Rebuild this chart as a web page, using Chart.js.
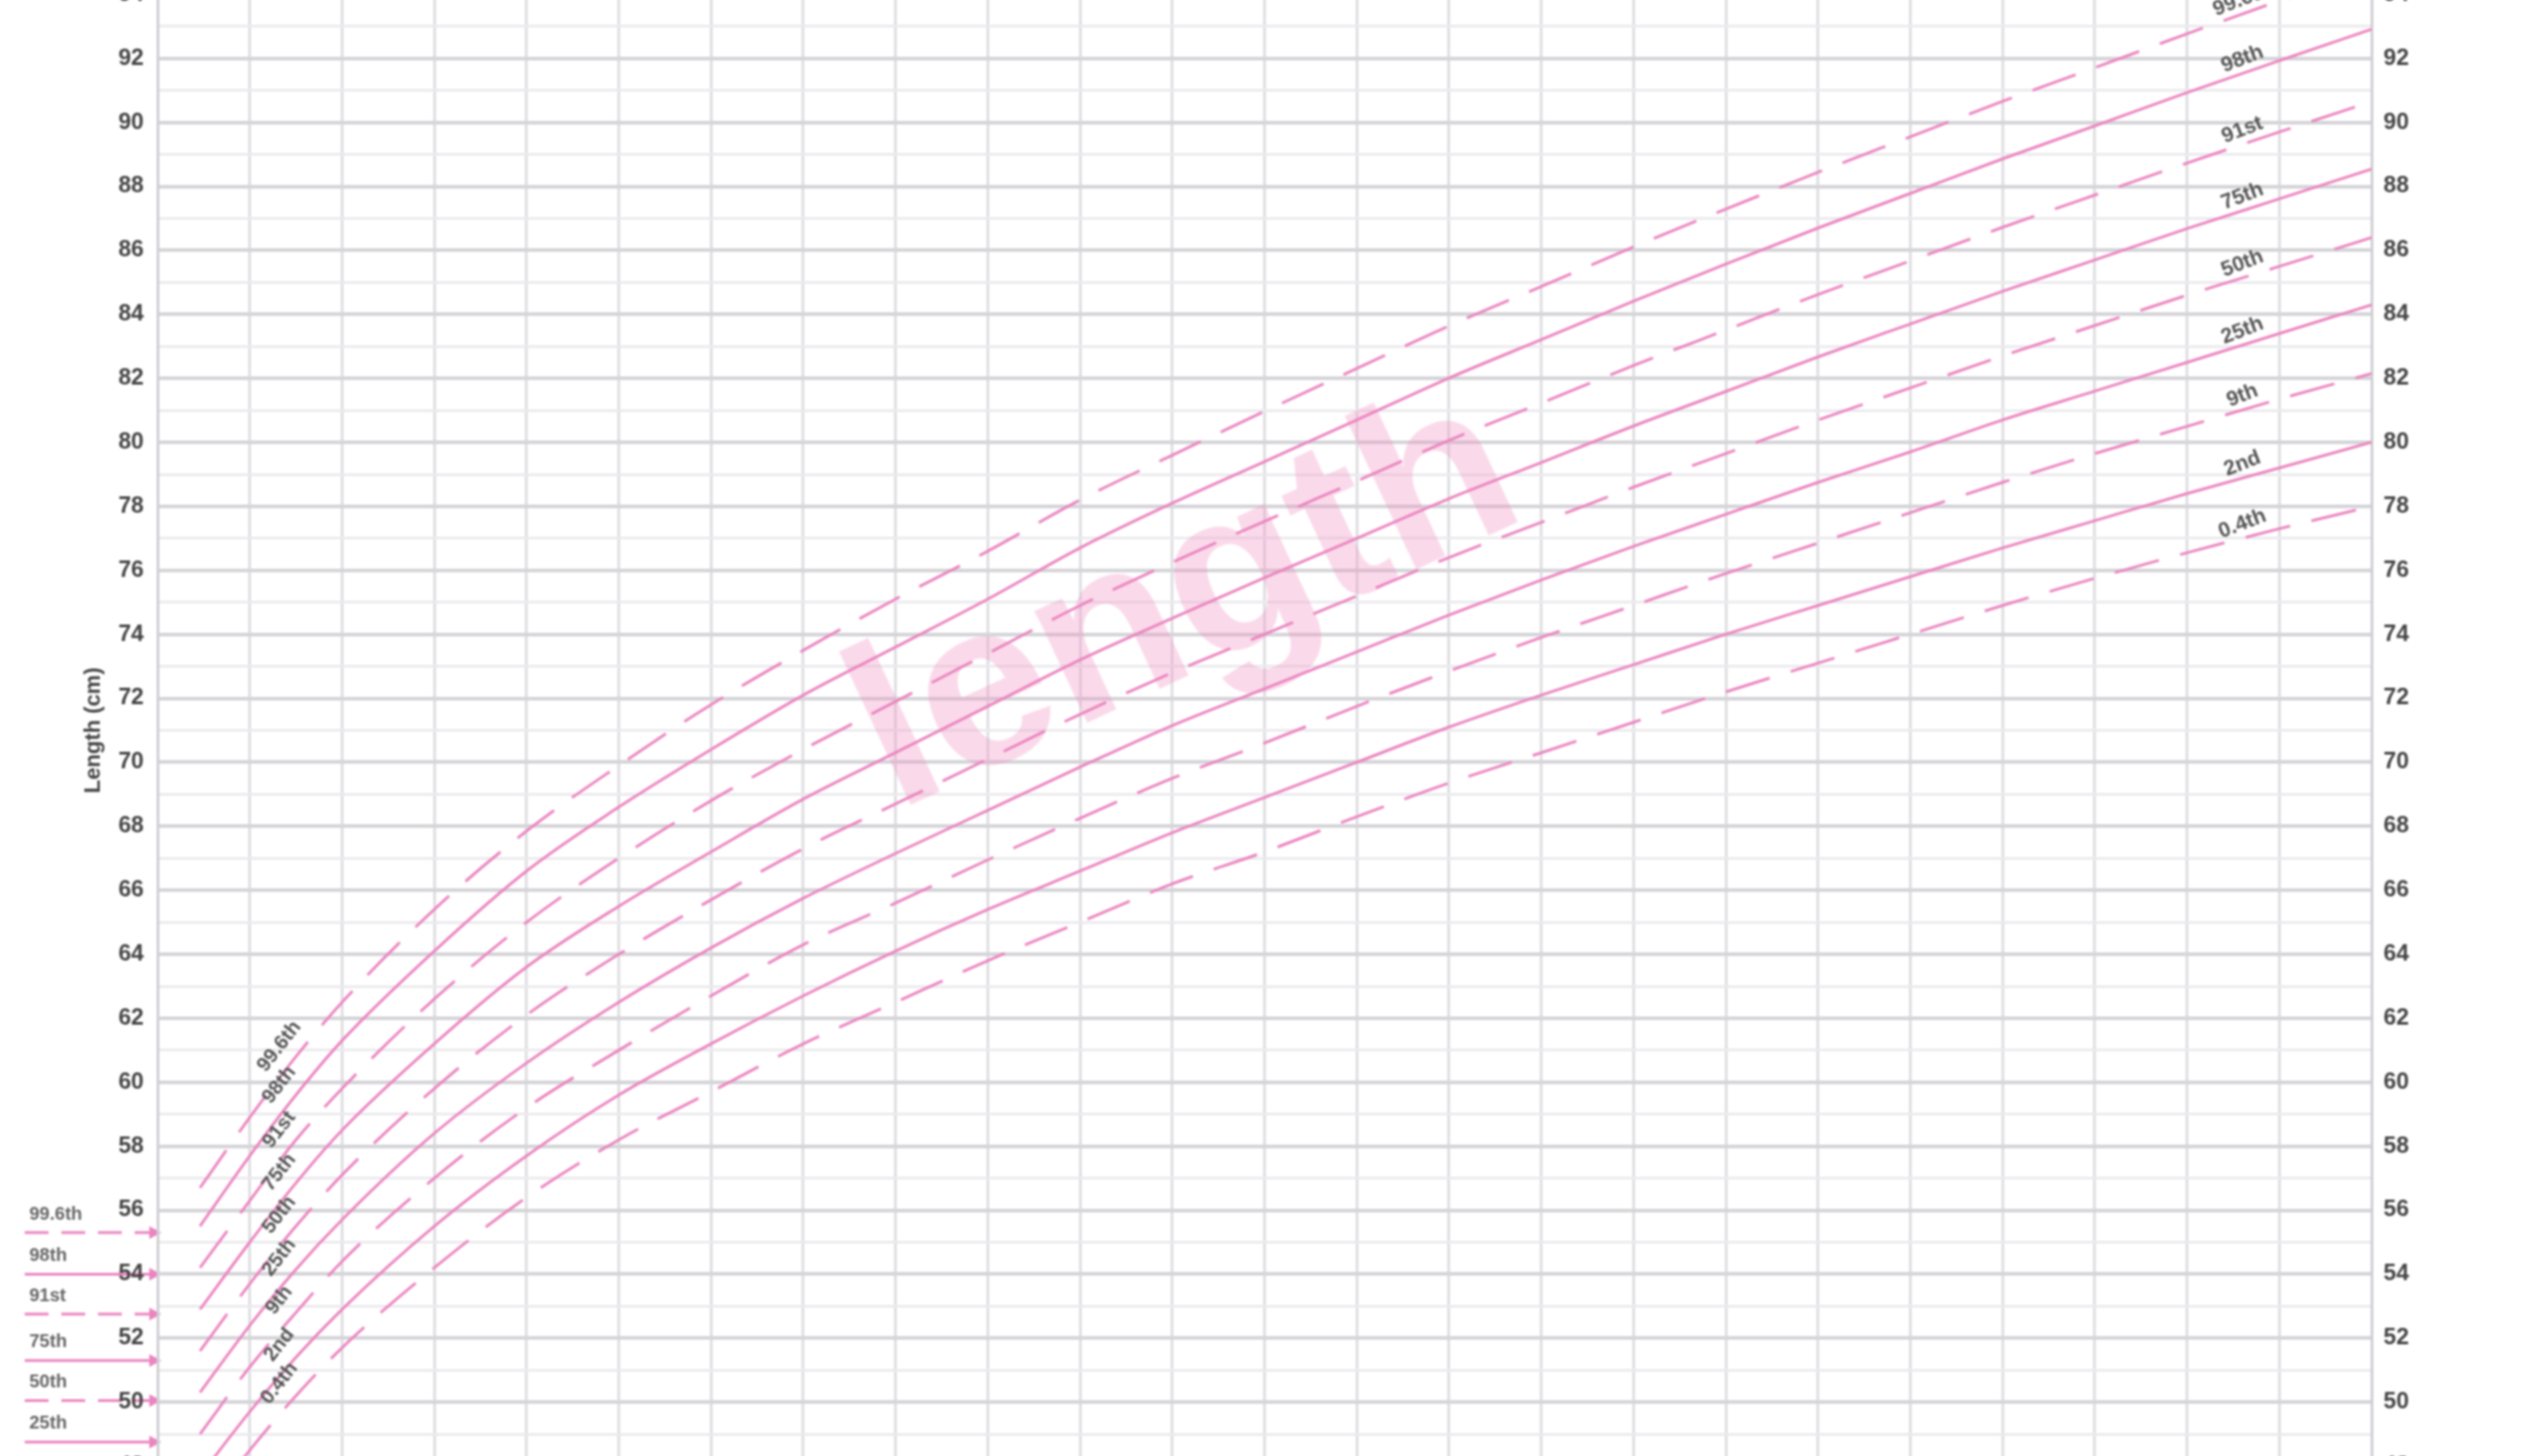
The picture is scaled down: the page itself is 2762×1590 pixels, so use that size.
<!DOCTYPE html>
<html>
<head>
<meta charset="utf-8">
<script src="https://cdn.jsdelivr.net/npm/chart.js@4.4.1/dist/chart.umd.min.js"></script>
<style>
    html, body { margin: 0; padding: 0; background: #fff; overflow: hidden; width: 2762px; height: 1590px; }
    #wrap { position: absolute; left: 0; top: -41px; width: 2762px; height: 1677px; }
    #chart-length { filter: blur(1.1px); }
</style>
</head>
<body>
<div id="wrap"><canvas id="chart-length"></canvas></div>
<script>
// =========================
// DATA
// =========================
const months = [0.46, 1, 1.5, 2, 3, 4, 5, 6, 7, 8, 9, 10, 11, 12, 13, 14, 15, 16, 17, 18, 19, 20, 21, 22, 23, 24]

const p0_4  = [46.5, 48.5, 50.2, 51.7, 54.2, 56.4, 58.2, 59.7, 61.2, 62.5, 63.8, 65.0, 66.2, 67.2, 68.3, 69.35, 70.3, 71.25, 72.2, 73.1, 74.0, 74.9, 75.75, 76.55, 77.3, 78.0]
const p2    = [47.7, 49.7, 51.4, 52.9, 55.5, 57.7, 59.6, 61.2, 62.7, 64.1, 65.4, 66.6, 67.8, 68.9, 70.0, 71.1, 72.1, 73.05, 74.0, 74.9, 75.8, 76.7, 77.55, 78.4, 79.2, 80.0]
const p9    = [49.0, 51.1, 52.8, 54.4, 57.0, 59.2, 61.0, 62.7, 64.3, 65.6, 66.95, 68.25, 69.5, 70.6, 71.75, 72.85, 73.9, 74.9, 75.9, 76.85, 77.8, 78.75, 79.65, 80.5, 81.35, 82.15]
const p25   = [50.3, 52.4, 54.15, 55.7, 58.4, 60.6, 62.5, 64.2, 65.75, 67.15, 68.5, 69.85, 71.15, 72.3, 73.45, 74.6, 75.7, 76.75, 77.75, 78.75, 79.7, 80.7, 81.6, 82.5, 83.4, 84.3]
const p50   = [51.6, 53.7, 55.5, 57.1, 59.8, 62.1, 64.0, 65.7, 67.3, 68.7, 70.1, 71.5, 72.8, 74.0, 75.2, 76.4, 77.5, 78.6, 79.65, 80.7, 81.7, 82.7, 83.65, 84.6, 85.5, 86.4]
const p75   = [52.9, 55.0, 56.85, 58.5, 61.2, 63.6, 65.5, 67.2, 68.85, 70.3, 71.75, 73.2, 74.5, 75.77, 77.0, 78.24, 79.37, 80.51, 81.59, 82.67, 83.7, 84.72, 85.7, 86.68, 87.61, 88.54]
const p91   = [54.2, 56.3, 58.2, 59.8, 62.6, 65.0, 67.0, 68.8, 70.4, 71.9, 73.4, 74.9, 76.25, 77.53, 78.79, 80.06, 81.23, 82.4, 83.51, 84.62, 85.67, 86.72, 87.73, 88.73, 89.7, 90.65]
const p98   = [55.5, 57.7, 59.6, 61.3, 64.1, 66.6, 68.6, 70.4, 72.1, 73.6, 75.1, 76.7, 78.1, 79.4, 80.7, 82.01, 83.21, 84.41, 85.57, 86.7, 87.78, 88.86, 89.89, 90.93, 91.93, 92.91]
const p99_6 = [56.7, 58.9, 60.8, 62.5, 65.4, 67.85, 69.9, 71.8, 73.5, 75.1, 76.6, 78.2, 79.6, 80.97, 82.31, 83.64, 84.87, 86.11, 87.29, 88.44, 89.55, 90.66, 91.71, 92.77, 93.8, 94.81]

const centileNames  = ["0.4th", "2nd", "9th", "25th", "50th", "75th", "91st", "98th", "99.6th"]
const centileSeries = [p0_4, p2, p9, p25, p50, p75, p91, p98, p99_6]
const centileDashed = [true, false, true, false, true, false, true, false, true]

// birth centiles (left margin)
const birthNames  = ["99.6th", "98th", "91st", "75th", "50th", "25th", "9th", "2nd", "0.4th"]
const birthValues = [55.3, 54.0, 52.75, 51.3, 50.05, 48.75, 47.4, 46.1, 44.9]
const birthDashed = [true, false, true, false, true, false, true, false, true]

const lengthTicks = [48, 50, 52, 54, 56, 58, 60, 62, 64, 66, 68, 70, 72, 74, 76, 78, 80, 82, 84, 86, 88, 90, 92, 94]
const ageMin = 0
const ageMax = 24
const lengthMin = 47
const lengthMax = 95

// =========================
// STYLE
// =========================
const pink = "#eb84bf"
const labelFont = "'Liberation Sans Narrow', 'Liberation Sans', sans-serif"
const labelGray = "#555"

function valueAt(series, m) {
    for (let i = 0; i < months.length - 1; i++) {
        if (m >= months[i] && m <= months[i + 1]) {
            const t = (m - months[i]) / (months[i + 1] - months[i])
            return series[i] + t * (series[i + 1] - series[i])
        }
    }
    return series[series.length - 1]
}

function rotatedText(ctx, text, x, y, angle, font, color) {
    ctx.save()
    ctx.translate(x, y)
    ctx.rotate(angle)
    ctx.font = font
    ctx.fillStyle = color
    ctx.textAlign = "center"
    ctx.textBaseline = "middle"
    ctx.fillText(text, 0, 0)
    ctx.restore()
}

// birth lines sit in the left margin, under the tick labels
const birthPlugin = {
    id: "birthLines",
    beforeDraw(chart) {
        const { ctx, scales: { y } } = chart
        const x0 = 27
        const x1 = chart.chartArea.left
        birthValues.forEach((v, i) => {
            const py = y.getPixelForValue(v)
            ctx.save()
            ctx.strokeStyle = pink
            ctx.lineWidth = 3
            ctx.setLineDash(birthDashed[i] ? [26, 14] : [])
            ctx.beginPath()
            ctx.moveTo(x0, py)
            ctx.lineTo(x1 - 4, py)
            ctx.stroke()
            ctx.setLineDash([])
            ctx.fillStyle = pink
            ctx.beginPath()
            ctx.moveTo(x1 - 9, py - 7)
            ctx.lineTo(x1 + 4, py)
            ctx.lineTo(x1 - 9, py + 7)
            ctx.closePath()
            ctx.fill()
            ctx.font = "bold 20px " + labelFont
            ctx.fillStyle = "#666"
            ctx.textAlign = "left"
            ctx.textBaseline = "middle"
            ctx.fillText(birthNames[i], 32, py - 20)
            ctx.restore()
        })
    }
}

const watermarkPlugin = {
    id: "watermark",
    beforeDatasetsDraw(chart) {
        const { ctx, scales: { x, y } } = chart
        ctx.save()
        ctx.translate(x.getPixelForValue(11.15), y.getPixelForValue(74.9))
        ctx.rotate(-25 * Math.PI / 180)
        ctx.font = "bold 255px 'Liberation Sans', sans-serif"
        ctx.fillStyle = "rgba(238, 140, 190, 0.32)"
        ctx.textAlign = "center"
        ctx.textBaseline = "middle"
        ctx.fillText("length", 0, 0)
        ctx.restore()
    }
}

const centileLabelPlugin = {
    id: "centileLabels",
    afterDatasetsDraw(chart) {
        const { ctx, scales: { x, y } } = chart
        centileSeries.forEach((s, i) => {
            // right end
            const mR = 22.6
            rotatedText(ctx, centileNames[i], x.getPixelForValue(mR), y.getPixelForValue(valueAt(s, mR) + 0.45),
                -21 * Math.PI / 180, "bold 23px " + labelFont, labelGray)
            // start of the curves
            const mL = 1.32
            rotatedText(ctx, centileNames[i], x.getPixelForValue(mL), y.getPixelForValue(valueAt(s, mL) + 1.0),
                -52 * Math.PI / 180, "bold 22px " + labelFont, labelGray)
        })
    }
}

// =========================
// CHART
// =========================
const yTickOptions = {
    stepSize: 1,
    autoSkip: false,
    padding: 15,
    color: "#444",
    font: { family: labelFont, size: 25, weight: "bold" },
    callback: v => lengthTicks.includes(v) ? String(v) : ""
}
const onlyWhole = s => { s.ticks = s.ticks.filter(t => Number.isInteger(t.value)) }
// 🔥 no extra room for the edge labels: the canvas is already larger than the window
const fitWidth = w => s => {
    s.width = w
    s.paddingTop = 0
    s.paddingBottom = 0
}

new Chart(document.getElementById("chart-length"), {
    type: "line",
    data: {
        datasets: centileSeries.map((s, i) => ({
            label: centileNames[i],
            data: months.map((m, j) => ({ x: m, y: s[j] })),
            borderColor: pink,
            borderWidth: 3,
            borderDash: centileDashed[i] ? [50, 24] : [],
            pointRadius: 0,
            cubicInterpolationMode: "monotone",
            fill: false
        }))
    },
    options: {
        responsive: true,
        maintainAspectRatio: false,
        devicePixelRatio: 1,
        animation: false,
        layout: { padding: 0, autoPadding: false },
        plugins: {
            legend: { display: false },
            tooltip: { enabled: false }
        },
        scales: {
            x: {
                type: "linear",
                min: ageMin,
                max: ageMax,
                ticks: { display: false, stepSize: 1 },
                grid: { color: "#dedee2", lineWidth: 3, drawTicks: false },
                border: { display: false },
                afterFit: s => {
                    s.height = 0
                    s.paddingLeft = 0
                    s.paddingRight = 0
                }
            },
            y: {
                type: "linear",
                position: "left",
                min: lengthMin,
                max: lengthMax,
                ticks: yTickOptions,
                afterBuildTicks: onlyWhole,
                afterFit: fitWidth(172),
                grid: {
                    drawTicks: false,
                    color: c => c.tick && c.tick.value % 2 === 0 ? "#d5d5d9" : "#ebebee",
                    lineWidth: c => c.tick && c.tick.value % 2 === 0 ? 4 : 3
                },
                border: { color: "#cfcfd4", width: 3 },
                title: {
                    display: true,
                    text: "Length (cm)",
                    color: "#444",
                    font: { family: "'Liberation Sans', sans-serif", size: 24, weight: "bold" },
                    padding: { top: 88, bottom: 0 }
                }
            },
            y2: {
                type: "linear",
                position: "right",
                min: lengthMin,
                max: lengthMax,
                ticks: { ...yTickOptions, padding: 13 },
                afterBuildTicks: onlyWhole,
                afterFit: fitWidth(173),
                grid: { display: false, drawTicks: false },
                border: { color: "#cfcfd4", width: 3 }
            }
        }
    },
    plugins: [birthPlugin, watermarkPlugin, centileLabelPlugin]
})
</script>
</body>
</html>
